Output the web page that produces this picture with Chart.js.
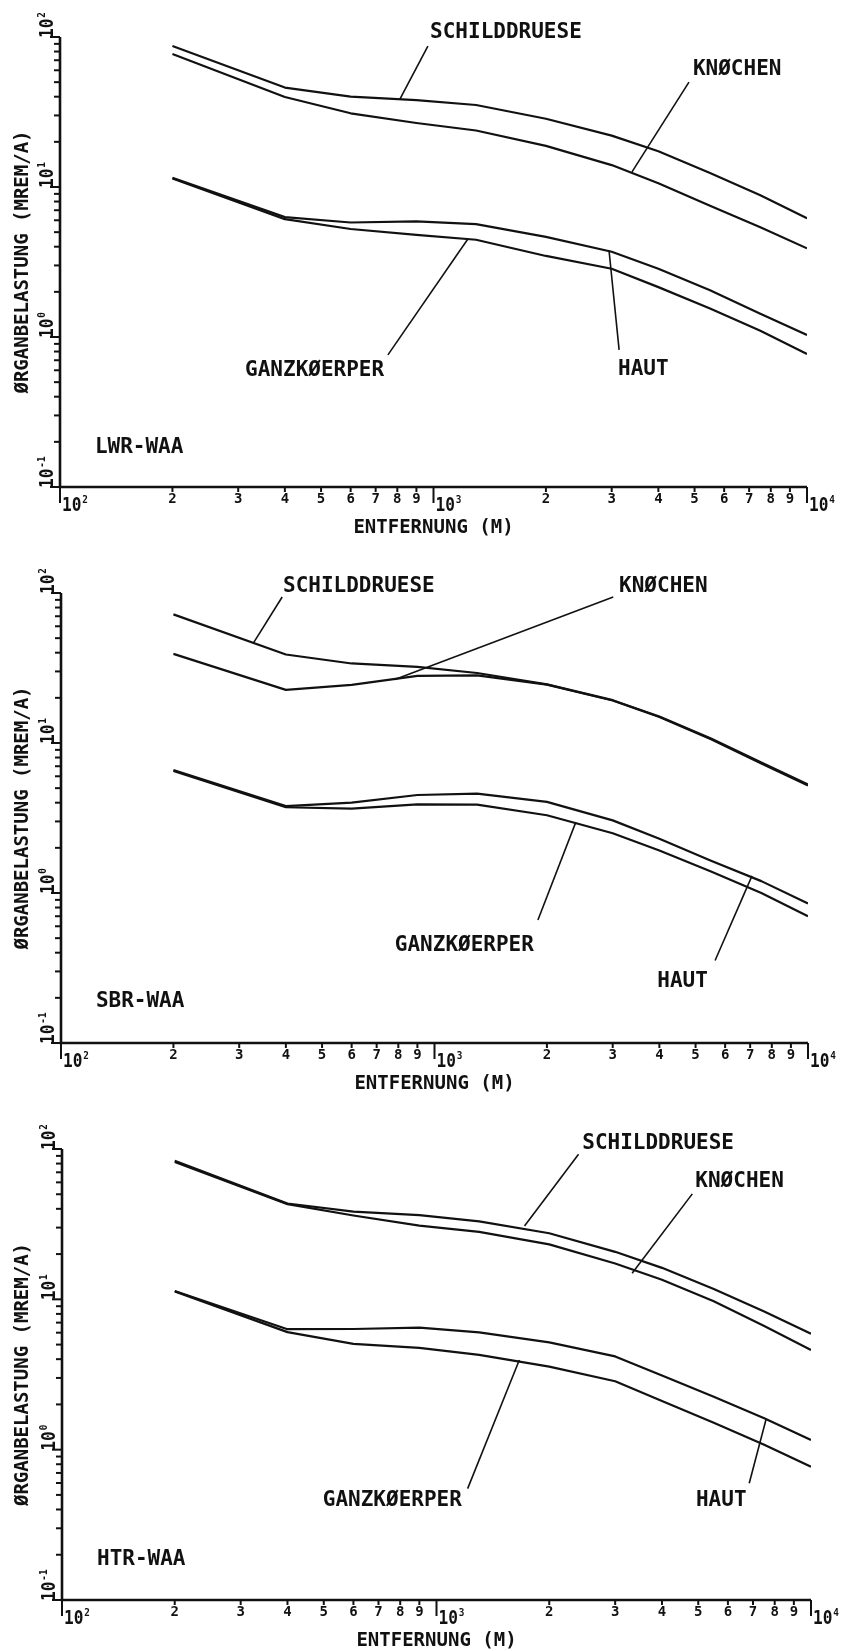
<!DOCTYPE html>
<html>
<head>
<meta charset="utf-8">
<title>Organbelastung – Entfernung</title>
<script src="https://cdn.jsdelivr.net/npm/chart.js@4.4.1/dist/chart.umd.min.js"></script>
<style>
  html, body { margin: 0; padding: 0; background: #fff; }
  #sheet { position: relative; width: 842px; height: 1651px; overflow: hidden; background: #fff; }
  #sheet canvas { position: absolute; left: 0; }
</style>
</head>
<body>
<div id="sheet">
  <canvas id="lwrChart" width="842" height="556" style="top:0px"></canvas>
  <canvas id="sbrChart" width="842" height="555" style="top:556px"></canvas>
  <canvas id="htrChart" width="842" height="540" style="top:1111px"></canvas>
</div>
<script>
// Entfernung in m
const distance = [200, 400, 600, 900, 1300, 2000, 3000, 4000, 5500, 7500, 10000];

// Organbelastung in mrem/a, LWR-WAA
const lwrSchild  = [87, 46, 40, 38, 35.2, 28.5, 22, 17.3, 12.4, 8.8, 6.2];
const lwrKnochen = [77, 39.8, 31, 26.7, 23.8, 18.8, 14, 10.6, 7.5, 5.4, 3.9];
const lwrHaut    = [11.5, 6.3, 5.8, 5.9, 5.65, 4.65, 3.7, 2.85, 2.05, 1.43, 1.03];
const lwrGanz    = [11.4, 6.1, 5.25, 4.8, 4.45, 3.47, 2.85, 2.15, 1.55, 1.1, 0.77];

// SBR-WAA
const sbrSchild  = [72, 38.9, 33.9, 32.2, 29.3, 24.6, 19.3, 15.0, 10.7, 7.4, 5.3];
const sbrKnochen = [39.3, 22.6, 24.4, 28.0, 28.2, 24.5, 19.2, 14.9, 10.6, 7.3, 5.2];
const sbrHaut    = [6.6, 3.8, 4.0, 4.5, 4.6, 4.05, 3.05, 2.3, 1.64, 1.2, 0.85];
const sbrGanz    = [6.5, 3.73, 3.65, 3.9, 3.88, 3.3, 2.5, 1.92, 1.39, 1.0, 0.70];

// HTR-WAA
const htrSchild  = [83.6, 43.4, 38.3, 36.3, 33.0, 27.5, 20.7, 16.2, 11.7, 8.3, 5.9];
const htrKnochen = [82, 43, 36.1, 30.9, 28.1, 23.2, 17.3, 13.5, 9.7, 6.65, 4.6];
const htrHaut    = [11.35, 6.33, 6.35, 6.48, 6.03, 5.17, 4.17, 3.11, 2.25, 1.62, 1.16];
const htrGanz    = [11.3, 6.05, 5.05, 4.75, 4.27, 3.57, 2.85, 2.11, 1.51, 1.08, 0.77];

// axis ticks
const xTicks = [100, 200, 300, 400, 500, 600, 700, 800, 900,
                1000, 2000, 3000, 4000, 5000, 6000, 7000, 8000, 9000, 10000];
const xTickLabels = ['10^2', '2', '3', '4', '5', '6', '7', '8', '9',
                     '10^3', '2', '3', '4', '5', '6', '7', '8', '9', '10^4'];
const yTicks = [0.1, 0.2, 0.3, 0.4, 0.5, 0.6, 0.7, 0.8, 0.9,
                1, 2, 3, 4, 5, 6, 7, 8, 9,
                10, 20, 30, 40, 50, 60, 70, 80, 90, 100];
const yTickLabels = ['10^-1', '', '', '', '', '', '', '', '',
                     '10^0', '', '', '', '', '', '', '', '',
                     '10^1', '', '', '', '', '', '', '', '', '10^2'];

const xTitle = 'ENTFERNUNG (M)';
const yTitle = 'ØRGANBELASTUNG (MREM/A)';

// curve labels with leader lines, in data coordinates (m, mrem/a)
const lwrNotes = [
    { text: 'SCHILDDRUESE', at: [979, 111], from: [966, 87], to: [813, 38.6] },
    { text: 'KNØCHEN', at: [4950, 63], from: [4830, 50], to: [3400, 12.6] },
    { text: 'GANZKØERPER', at: [313, 0.62], from: [755, 0.76], to: [1236, 4.5] },
    { text: 'HAUT', at: [3120, 0.63], from: [3140, 0.82], to: [2950, 3.8] },
    { text: 'LWR-WAA', at: [124, 0.19] }
];
const sbrNotes = [
    { text: 'SCHILDDRUESE', at: [393, 114], from: [391, 94], to: [327, 46.1] },
    { text: 'KNØCHEN', at: [3120, 114], from: [3010, 94], to: [783, 26.5] },
    { text: 'GANZKØERPER', at: [783, 0.465], from: [1892, 0.66], to: [2390, 2.97] },
    { text: 'HAUT', at: [3950, 0.267], from: [5640, 0.355], to: [7080, 1.30] },
    { text: 'SBR-WAA', at: [124, 0.195] }
];
const htrNotes = [
    { text: 'SCHILDDRUESE', at: [2450, 112], from: [2395, 92.3], to: [1718, 30.7] },
    { text: 'KNØCHEN', at: [4910, 63.2], from: [4820, 50.3], to: [3330, 14.9] },
    { text: 'GANZKØERPER', at: [497, 0.475], from: [1211, 0.551], to: [1664, 3.95] },
    { text: 'HAUT', at: [4930, 0.475], from: [6840, 0.598], to: [7590, 1.60] },
    { text: 'HTR-WAA', at: [124, 0.193] }
];

const INK = '#111';
const MONO = '"DejaVu Sans Mono", "Liberation Mono", monospace';

// text whose capital letters are centred on midY
function capText(ctx, text, x, midY, size) {
    ctx.font = 'bold ' + size + 'px ' + MONO;
    ctx.textAlign = 'left';
    ctx.textBaseline = 'alphabetic';
    ctx.fillText(text, x, midY + size * 0.365);
}

// "10" with a raised exponent, baseline at (x, y)
function power(ctx, label, x, y) {
    const exp = label.split('^')[1];
    ctx.save();
    ctx.translate(x, y);
    ctx.scale(0.85, 1);
    ctx.textAlign = 'left';
    ctx.textBaseline = 'alphabetic';
    ctx.font = 'bold 19px ' + MONO;
    ctx.fillText('10', 0, 0);
    const w = ctx.measureText('10').width;
    ctx.font = 'bold 11px ' + MONO;
    ctx.fillText(exp, w + 1, -8);
    ctx.restore();
}

const plotterFrame = {
    id: 'plotterFrame',
    afterDraw(chart, args, opts) {
        const ctx = chart.ctx;
        const a = chart.chartArea;
        const xs = chart.scales.x;
        const ys = chart.scales.y;

        ctx.save();
        ctx.strokeStyle = INK;
        ctx.fillStyle = INK;

        // axes, left and bottom only
        ctx.lineWidth = 2.6;
        ctx.beginPath();
        ctx.moveTo(a.left, a.top);
        ctx.lineTo(a.left, a.bottom);
        ctx.lineTo(a.right, a.bottom);
        ctx.stroke();

        // y ticks point left, decade labels turned upright
        ctx.lineWidth = 2;
        yTicks.forEach((v, i) => {
            const py = ys.getPixelForValue(v);
            const lbl = yTickLabels[i];
            ctx.beginPath();
            ctx.moveTo(a.left - (lbl ? 10 : 6), py);
            ctx.lineTo(a.left, py);
            ctx.stroke();
            if (lbl) {
                ctx.save();
                ctx.translate(a.left - 7, py + 1);
                ctx.rotate(-Math.PI / 2);
                power(ctx, lbl, 0, 0);
                ctx.restore();
            }
        });

        // x ticks point down
        xTicks.forEach((v, i) => {
            const px = xs.getPixelForValue(v);
            const lbl = xTickLabels[i];
            const decade = lbl.indexOf('^') > 0;
            ctx.beginPath();
            ctx.moveTo(px, a.bottom);
            ctx.lineTo(px, a.bottom + (decade ? 16 : 5));
            ctx.stroke();
            if (decade) {
                power(ctx, lbl, px + 2, a.bottom + 24);
            } else {
                ctx.font = 'bold 14px ' + MONO;
                ctx.textAlign = 'center';
                ctx.textBaseline = 'alphabetic';
                ctx.fillText(lbl, px, a.bottom + 16);
            }
        });

        // axis titles
        ctx.font = 'bold 19px ' + MONO;
        ctx.textAlign = 'center';
        ctx.textBaseline = 'alphabetic';
        ctx.fillText(xTitle, xs.getPixelForValue(1000), a.bottom + 46);
        ctx.save();
        ctx.translate(28, (a.top + a.bottom) / 2);
        ctx.rotate(-Math.PI / 2);
        ctx.fillText(yTitle, 0, 0);
        ctx.restore();

        // curve names and leaders
        ctx.lineWidth = 1.6;
        opts.notes.forEach(n => {
            if (n.from) {
                ctx.beginPath();
                ctx.moveTo(xs.getPixelForValue(n.from[0]), ys.getPixelForValue(n.from[1]));
                ctx.lineTo(xs.getPixelForValue(n.to[0]), ys.getPixelForValue(n.to[1]));
                ctx.stroke();
            }
            capText(ctx, n.text, xs.getPixelForValue(n.at[0]), ys.getPixelForValue(n.at[1]), 21);
        });

        ctx.restore();
    }
};

function makeSeries(values, name) {
    return {
        label: name,
        data: distance.map((d, i) => ({ x: d, y: values[i] })),
        borderColor: INK,
        borderWidth: 2.2,
        borderJoinStyle: 'round',
        pointRadius: 0,
        tension: 0,
        fill: false
    };
}

function makePanel(canvasId, pad, series, notes) {
    return new Chart(document.getElementById(canvasId), {
        type: 'line',
        data: {
            datasets: [
                makeSeries(series[0], 'SCHILDDRUESE'),
                makeSeries(series[1], 'KNOCHEN'),
                makeSeries(series[2], 'HAUT'),
                makeSeries(series[3], 'GANZKOERPER')
            ]
        },
        options: {
            responsive: false,
            animation: false,
            layout: { padding: pad },
            plugins: {
                legend: { display: false },
                tooltip: { enabled: false },
                plotterFrame: { notes: notes }
            },
            scales: {
                x: { type: 'logarithmic', min: 100, max: 10000, display: false },
                y: { type: 'logarithmic', min: 0.1, max: 100, display: false }
            }
        },
        plugins: [plotterFrame]
    });
}

makePanel('lwrChart', { left: 60, right: 35, top: 37, bottom: 69 },
    [lwrSchild, lwrKnochen, lwrHaut, lwrGanz], lwrNotes);
makePanel('sbrChart', { left: 61, right: 34, top: 37, bottom: 68 },
    [sbrSchild, sbrKnochen, sbrHaut, sbrGanz], sbrNotes);
makePanel('htrChart', { left: 62, right: 31, top: 38, bottom: 51 },
    [htrSchild, htrKnochen, htrHaut, htrGanz], htrNotes);
</script>
</body>
</html>
